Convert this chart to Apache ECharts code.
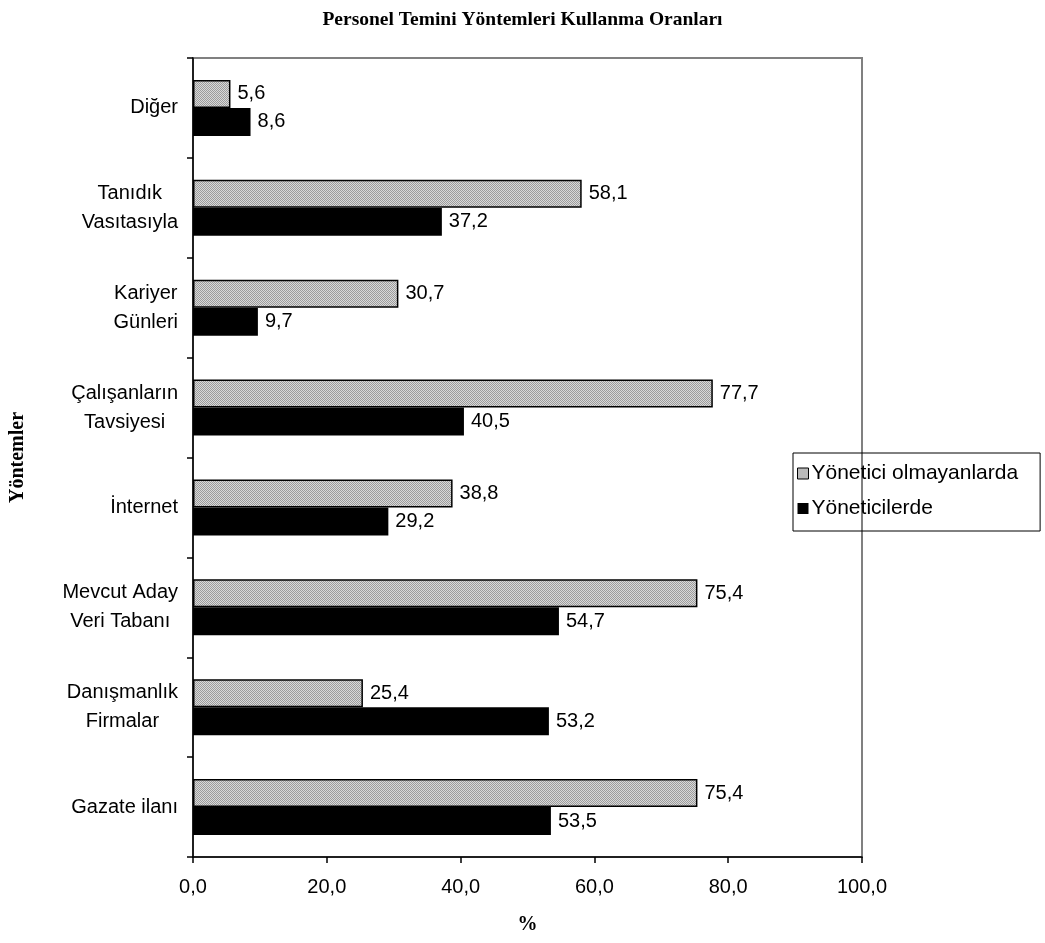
<!DOCTYPE html>
<html>
<head>
<meta charset="utf-8">
<script src="https://cdn.jsdelivr.net/npm/echarts@6/dist/echarts.min.js"></script>
<style>
  html, body { margin: 0; padding: 0; background: #fff; }
  #chart { width: 1045px; height: 943px; }
</style>
</head>
<body>
<div id="chart"></div>
<script>
// Categories listed bottom to top along the value axis
const categories = [
  'Gazate ilanı',
  'Danışmanlık\nFirmalar',
  'Mevcut Aday\nVeri Tabanı',
  'İnternet',
  'Çalışanların\nTavsiyesi',
  'Kariyer\nGünleri',
  'Tanıdık\nVasıtasıyla',
  'Diğer'
];
const seriesNames = ['Yönetici olmayanlarda', 'Yöneticilerde'];
const nonManagers = [75.4, 25.4, 75.4, 38.8, 77.7, 30.7, 58.1, 5.6];
const managers = [53.5, 53.2, 54.7, 29.2, 40.5, 9.7, 37.2, 8.6];
const xTicks = [0, 20, 40, 60, 80, 100];

// Fine checkered grey fill for the first series
function makePattern() {
  const c = document.createElement('canvas');
  c.width = 2; c.height = 2;
  const g = c.getContext('2d');
  g.fillStyle = '#d9d9d9'; g.fillRect(0, 0, 2, 2);
  g.fillStyle = '#9c9c9c'; g.fillRect(0, 0, 1, 1); g.fillRect(1, 1, 1, 1);
  return c;
}
const greyFill = { image: makePattern(), repeat: 'repeat' };

const sans = '"Liberation Sans", Arial, sans-serif';
const serif = '"Liberation Serif", "Times New Roman", serif';
const fmt = v => v.toFixed(1).replace('.', ',');

const chart = echarts.init(document.getElementById('chart'), null, { renderer: 'canvas' });
chart.setOption({
  animation: false,
  backgroundColor: '#fff',
  title: {
    text: 'Personel Temini Yöntemleri Kullanma Oranları',
    left: 'center',
    top: 5,
    textStyle: { fontFamily: serif, fontWeight: 'bold', fontSize: 19.5, color: '#000' }
  },
  legend: {
    orient: 'vertical',
    left: 793,
    top: 453,
    padding: [10, 22, 12, 4],
    itemGap: 14,
    itemWidth: 11,
    itemHeight: 11,
    borderColor: '#000',
    borderWidth: 1,
    icon: 'rect',
    textStyle: { fontFamily: sans, fontSize: 21, color: '#000', padding: [0, 0, 0, -2] },
    data: [
      { name: seriesNames[0], itemStyle: { color: greyFill, borderColor: '#000', borderWidth: 1 } },
      { name: seriesNames[1], itemStyle: { color: '#000' } }
    ]
  },
  grid: {
    left: 193, right: 183, top: 58, bottom: 86,
    show: true, borderColor: '#808080', borderWidth: 2, backgroundColor: 'transparent'
  },
  xAxis: {
    type: 'value',
    min: xTicks[0], max: xTicks[xTicks.length - 1], interval: 20,
    name: '%',
    nameLocation: 'middle',
    nameGap: 58,
    nameTextStyle: { fontFamily: serif, fontWeight: 'bold', fontSize: 20, color: '#000' },
    axisLine: { show: true, lineStyle: { color: '#000', width: 1.5 } },
    axisTick: { show: true, length: 6, lineStyle: { color: '#000', width: 1.5 } },
    splitLine: { show: false },
    axisLabel: { formatter: fmt, margin: 20, fontFamily: sans, fontSize: 20, color: '#000' }
  },
  yAxis: {
    type: 'category',
    data: categories,
    name: 'Yöntemler',
    nameLocation: 'middle',
    nameGap: 165,
    nameRotate: 90,
    nameTextStyle: { fontFamily: serif, fontWeight: 'bold', fontSize: 20, color: '#000' },
    axisLine: { show: true, lineStyle: { color: '#000', width: 1.5 } },
    axisTick: { show: true, length: 6, lineStyle: { color: '#000', width: 1.5 } },
    axisLabel: {
      margin: 15,
      fontFamily: sans, fontSize: 20, color: '#000', lineHeight: 29,
      formatter: v => v.split('\n').map(l => '{c|' + l + '}').join('\n'),
      rich: { c: { align: 'center', fontFamily: sans, fontSize: 20, color: '#000', lineHeight: 29 } }
    }
  },
  series: [
    {
      name: seriesNames[0],
      type: 'bar',
      data: nonManagers,
      barGap: '0%',
      barCategoryGap: '44%',
      itemStyle: { color: greyFill, borderColor: '#000', borderWidth: 1.5 },
      label: { show: true, position: 'right', distance: 7, formatter: p => fmt(p.value),
               fontFamily: sans, fontSize: 20, color: '#000' }
    },
    {
      name: seriesNames[1],
      type: 'bar',
      data: managers,
      barGap: '0%',
      barCategoryGap: '44%',
      itemStyle: { color: '#000' },
      label: { show: true, position: 'right', distance: 7, formatter: p => fmt(p.value),
               fontFamily: sans, fontSize: 20, color: '#000' }
    }
  ]
});
</script>
</body>
</html>
